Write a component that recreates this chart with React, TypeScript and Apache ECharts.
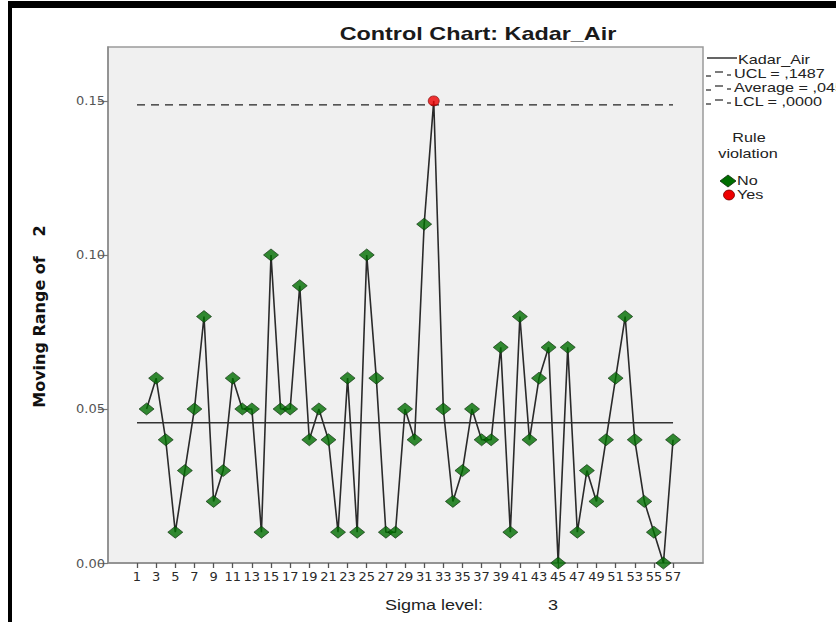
import React, { useEffect, useRef } from "react";
import * as echarts from "echarts";

// ---- data ----
const sampleIds = [
  2, 3, 4, 5, 6, 7, 8, 9, 10, 11, 12, 13, 14, 15, 16, 17, 18, 19, 20, 21,
  22, 23, 24, 25, 26, 27, 28, 29, 30, 31, 32, 33, 34, 35, 36, 37, 38, 39, 40, 41,
  42, 43, 44, 45, 46, 47, 48, 49, 50, 51, 52, 53, 54, 55, 56, 57,
];
const movingRange = [
  0.05, 0.06, 0.04, 0.01, 0.03, 0.05, 0.08, 0.02, 0.03, 0.06,
  0.05, 0.05, 0.01, 0.1, 0.05, 0.05, 0.09, 0.04, 0.05, 0.04,
  0.01, 0.06, 0.01, 0.1, 0.06, 0.01, 0.01, 0.05, 0.04, 0.11,
  0.15, 0.05, 0.02, 0.03, 0.05, 0.04, 0.04, 0.07, 0.01, 0.08,
  0.04, 0.06, 0.07, 0.0, 0.07, 0.01, 0.03, 0.02, 0.04, 0.06,
  0.08, 0.04, 0.02, 0.01, 0.0, 0.04,
];
const xTickLabels = [
  1, 3, 5, 7, 9, 11, 13, 15, 17, 19, 21, 23, 25, 27, 29, 31, 33, 35, 37, 39,
  41, 43, 45, 47, 49, 51, 53, 55, 57,
];
const yTickValues = [0, 0.05, 0.1, 0.15];
const ucl = 0.1487;
const average = 0.0455;
const lcl = 0.0;
const limitSpan = [1, 57];
const legendLines = ["Kadar_Air", "UCL = ,1487", "Average = ,0455", "LCL = ,0000"];
const ruleLegend = ["No", "Yes"];

const AR = "Liberation Sans, Arial, sans-serif";
const DV = "DejaVu Sans, Verdana, sans-serif";

export default function App() {
  const ref = useRef<HTMLDivElement>(null);
  useEffect(() => {
    if (!ref.current) return;
    const chart = echarts.init(ref.current, null, { renderer: "svg" });
    const points = sampleIds.map((x, i) => [x, movingRange[i]]);
    const normal = points.filter((p) => p[1] <= ucl && p[1] >= lcl);
    const violations = points.filter((p) => p[1] > ucl || p[1] < lcl);

    const lg = (i: number) => 60 + i * 14;
    const graphic: any[] = [
      // black frame
      { type: "rect", shape: { x: 8, y: 1, width: 828, height: 7 }, style: { fill: "#000" }, silent: true },
      { type: "rect", shape: { x: 8, y: 1, width: 4, height: 621 }, style: { fill: "#000" }, silent: true },
      // title
      {
        type: "text", x: 478, y: 34, scaleX: 1.3,
        style: { text: "Control Chart: Kadar_Air", x: 0, y: 0, align: "center", verticalAlign: "middle", font: `bold 18px ${AR}`, fill: "#1a1a1a" },
      },
      // y axis name
      {
        type: "text", x: 39, y: 332, rotation: Math.PI / 2,
        style: { text: "Moving Range of", x: 0, y: 0, align: "center", verticalAlign: "middle", font: `bold 16px ${DV}`, fill: "#111" },
      },
      {
        type: "text", x: 39, y: 231, rotation: Math.PI / 2,
        style: { text: "2", x: 0, y: 0, align: "center", verticalAlign: "middle", font: `bold 16px ${DV}`, fill: "#111" },
      },
      // x axis name
      {
        type: "text", x: 385, y: 605, scaleX: 1.2,
        style: { text: "Sigma level:", x: 0, y: 0, align: "left", verticalAlign: "middle", font: `15px ${AR}`, fill: "#222" },
      },
      {
        type: "text", x: 553, y: 605, scaleX: 1.2,
        style: { text: "3", x: 0, y: 0, align: "center", verticalAlign: "middle", font: `15px ${AR}`, fill: "#222" },
      },
      // legend: series line
      { type: "line", shape: { x1: 707, y1: lg(0) - 2, x2: 737, y2: lg(0) - 2 }, style: { stroke: "#111", lineWidth: 1.3 } },
    ];
    // dashed-like icons for UCL, Average, LCL
    [1, 2, 3].forEach((i) => {
      const y = lg(i);
      graphic.push(
        { type: "line", shape: { x1: 706, y1: y + 2, x2: 711, y2: y + 2 }, style: { stroke: "#222", lineWidth: 1.2 } },
        { type: "line", shape: { x1: 715, y1: y - 2, x2: 723, y2: y - 2 }, style: { stroke: "#222", lineWidth: 1.2 } },
        { type: "line", shape: { x1: 727, y1: y + 1, x2: 731, y2: y + 1 }, style: { stroke: "#222", lineWidth: 1.2 } }
      );
    });
    legendLines.forEach((t, i) => {
      graphic.push({
        type: "text", x: i === 0 ? 738 : 734, y: lg(i), scaleX: 1.35,
        style: { text: t, x: 0, y: 0, align: "left", verticalAlign: "middle", font: `12px ${AR}`, fill: "#222" },
      });
    });
    graphic.push(
      {
        type: "text", x: 749, y: 138, scaleX: 1.35,
        style: { text: "Rule", x: 0, y: 0, align: "center", verticalAlign: "middle", font: `12px ${AR}`, fill: "#222" },
      },
      {
        type: "text", x: 748, y: 154, scaleX: 1.35,
        style: { text: "violation", x: 0, y: 0, align: "center", verticalAlign: "middle", font: `12px ${AR}`, fill: "#222" },
      },
      {
        type: "polygon", shape: { points: [[720, 181], [728, 175], [736, 181], [728, 187]] },
        style: { fill: "#006e00", stroke: "#0b2a0b", lineWidth: 0.8 },
      },
      { type: "ellipse", shape: { cx: 729, cy: 195, rx: 5.5, ry: 5 }, style: { fill: "#ee0000", stroke: "#700", lineWidth: 0.8 } },
      {
        type: "text", x: 737, y: 181, scaleX: 1.35,
        style: { text: ruleLegend[0], x: 0, y: 0, align: "left", verticalAlign: "middle", font: `12px ${AR}`, fill: "#222" },
      },
      {
        type: "text", x: 737, y: 195, scaleX: 1.35,
        style: { text: ruleLegend[1], x: 0, y: 0, align: "left", verticalAlign: "middle", font: `12px ${AR}`, fill: "#222" },
      }
    );

    chart.setOption({
      animation: false,
      backgroundColor: "#fff",
      grid: {
        left: 108, top: 47, width: 595, height: 516,
        show: true, backgroundColor: "#f0f0f0", borderColor: "#9a9a9a", borderWidth: 1.5,
      },
      xAxis: {
        type: "value", min: -2.03, max: 60.13,
        splitLine: { show: false },
        axisLine: { show: true, onZero: false, lineStyle: { color: "#8a8a8a", width: 1.5 } },
        axisTick: { show: true, length: 5, customValues: xTickLabels, lineStyle: { color: "#555", width: 1.3 } },
        axisLabel: { customValues: xTickLabels, fontFamily: DV, fontSize: 13, color: "#2a2a2a", margin: 7 },
      },
      yAxis: {
        type: "value", min: 0, max: 0.1675,
        splitLine: { show: false },
        axisLine: { show: true, onZero: false, lineStyle: { color: "#8a8a8a", width: 1.5 } },
        axisTick: { show: true, length: 10, customValues: yTickValues, lineStyle: { color: "#777", width: 1.2 } },
        axisLabel: {
          customValues: yTickValues, fontFamily: DV, fontSize: 13, color: "#555", margin: 3,
          formatter: (v: number) => v.toFixed(2),
        },
      },
      graphic,
      series: [
        {
          type: "line", name: "UCL", data: [[limitSpan[0], ucl], [limitSpan[1], ucl]],
          symbol: "none", lineStyle: { color: "#222", width: 1.4, type: [8, 6] }, z: 2,
        },
        {
          type: "line", name: "Average", data: [[limitSpan[0], average], [limitSpan[1], average]],
          symbol: "none", lineStyle: { color: "#333", width: 1.5 }, z: 2,
        },
        {
          type: "line", name: "Kadar_Air", data: points,
          symbol: "none", lineStyle: { color: "#2a2a2a", width: 1.6 }, z: 3,
        },
        {
          type: "scatter", name: "No", data: normal, symbol: "diamond", symbolSize: [15, 12],
          itemStyle: { color: "#006e00", borderColor: "#0b2a0b", borderWidth: 0.8 }, z: 4,
        },
        {
          type: "scatter", name: "Yes", data: violations, symbol: "circle", symbolSize: [11, 10],
          itemStyle: { color: "#ee0000", borderColor: "#700", borderWidth: 0.8 }, z: 5,
        },
      ],
    });
    return () => chart.dispose();
  }, []);
  return (
    <div
      ref={ref}
      style={{ position: "fixed", left: 0, top: 0, width: 836, height: 622 }}
    />
  );
}
